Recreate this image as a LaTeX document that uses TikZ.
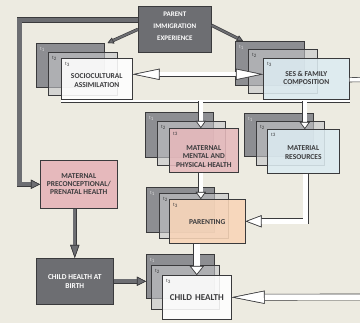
\documentclass[tikz,border=0pt]{standalone}
\usepackage{fontspec}
\setmainfont{Carlito}
\usetikzlibrary{arrows.meta}
\definecolor{paper}{HTML}{EDEBE1}
\definecolor{edgegray}{HTML}{3A3A3C}
\definecolor{darkbox}{HTML}{6D6E72}
\definecolor{tonegray}{HTML}{8D8E92}
\definecolor{veilgray}{HTML}{C4C5C8}
\definecolor{rosebox}{HTML}{E6B9BC}
\definecolor{skybox}{HTML}{DCEBF1}
\definecolor{peachbox}{HTML}{F9D5B8}
\definecolor{inkgray}{HTML}{3C3C3E}

\tikzset{
  panel/.style={draw=edgegray, line width=0.6pt, anchor=north west, inner sep=0pt},
  tone/.style={panel, fill=tonegray},
  veil/.style={panel, fill=veilgray, fill opacity=0.6},
  front/.style={panel, fill=#1, fill opacity=0.88},
  front/.default=white,
  heavy/.style={panel, fill=darkbox},
  caption/.style={font=\bfseries\fontsize{7.5}{8.5}\selectfont, text=inkgray,
    align=center, inner sep=0pt, text opacity=1},
  tmark/.style={font=\fontsize{5}{5}\selectfont, text=inkgray, anchor=north west,
    inner sep=0pt, xshift=4pt, yshift=-4pt, text opacity=1},
  wflow/.style={draw=white, line width=#1,
    preaction={draw=edgegray, line width=#1+1.2pt}},
  gflow/.style={draw=darkbox, line width=#1,
    preaction={draw=edgegray, line width=#1+1.2pt}},
  wlong/.tip={Triangle[fill=white, color=edgegray, line width=0.6pt, length=27pt, width=11pt]},
  wlonger/.tip={Triangle[fill=white, color=edgegray, line width=0.6pt, length=33pt, width=13pt]},
  wshort/.tip={Triangle[fill=white, color=edgegray, line width=0.6pt, length=7pt, width=10pt]},
  wmid/.tip={Triangle[fill=white, color=edgegray, line width=0.6pt, length=16pt, width=12pt]},
  wbroad/.tip={Triangle[fill=white, color=edgegray, line width=0.6pt, length=9pt, width=14pt]},
  gsmall/.tip={Triangle[fill=darkbox, color=edgegray, line width=0.6pt, length=6pt, width=6pt]},
  gmid/.tip={Triangle[fill=darkbox, color=edgegray, line width=0.6pt, length=9pt, width=9pt]},
  glong/.tip={Triangle[fill=darkbox, color=edgegray, line width=0.6pt, length=13pt, width=9pt]},
}

\begin{document}
\begin{tikzpicture}[x=1pt, y=-1pt]
  \useasboundingbox (0,0) rectangle (360,323);
  \fill[paper] (0,0) rectangle (360,323);
  \clip (0,0) rectangle (360,323);

  % ── Parent immigration experience ──
  \node[heavy, minimum width=73, minimum height=46,
    label={[caption, text=white, font=\bfseries\fontsize{7}{12}\selectfont, yshift=3.5pt]center:{PARENT\\IMMIGRATION\\EXPERIENCE}}]
    (parent) at (138,6) {};

  % ── Sociocultural assimilation ──
  \node[tone, minimum width=68, minimum height=44,
    label={[tmark, text=white!85!black]north west:t\textsubscript{1}}] (soc1) at (36,43) {};
  \node[veil, minimum width=69, minimum height=43,
    label={[tmark]north west:t\textsubscript{2}}] (soc2) at (48,52) {};
  \node[front, minimum width=71, minimum height=41,
    label={[tmark]north west:t\textsubscript{3}},
    label={[caption, yshift=-2pt]center:{SOCIOCULTURAL\\ASSIMILATION}}] (soc3) at (61,58) {};

  % ── SES & family composition ──
  \node[tone, minimum width=69, minimum height=44,
    label={[tmark, text=white!85!black]north west:t\textsubscript{1}}] (ses1) at (235,41) {};
  \node[veil, minimum width=69, minimum height=44,
    label={[tmark]north west:t\textsubscript{2}}] (ses2) at (248,49) {};
  \node[front=skybox, minimum width=86, minimum height=41,
    label={[tmark]north west:t\textsubscript{3}},
    label={[caption, yshift=1pt]center:{SES \& FAMILY\\COMPOSITION}}] (ses3) at (263,58) {};

  % ── Maternal mental and physical health ──
  \node[tone, minimum width=68, minimum height=45,
    label={[tmark, text=white!85!black]north west:t\textsubscript{1}}] (mh1) at (145,112) {};
  \node[veil, minimum width=68, minimum height=44,
    label={[tmark]north west:t\textsubscript{2}}] (mh2) at (157,121) {};
  \node[front=rosebox, minimum width=69, minimum height=44,
    label={[tmark]north west:t3},
    label={[caption, yshift=-6pt]center:{MATERNAL\\MENTAL AND\\PHYSICAL HEALTH}}] (mh3) at (169,128) {};

  % ── Material resources ──
  \node[tone, minimum width=69, minimum height=43,
    label={[tmark, text=white!85!black]north west:t\textsubscript{1}}] (mr1) at (244,113) {};
  \node[veil, minimum width=68, minimum height=44,
    label={[tmark]north west:t\textsubscript{2}}] (mr2) at (256,121) {};
  \node[front=skybox, minimum width=72, minimum height=44,
    label={[tmark]north west:t3},
    label={[caption, yshift=-1.5pt]center:{MATERIAL\\RESOURCES}}] (mr3) at (267,129) {};

  % ── Parenting ──
  \node[tone, minimum width=68, minimum height=45,
    label={[tmark, text=white!85!black]north west:t\textsubscript{1}}] (pa1) at (146,187) {};
  \node[veil, minimum width=69, minimum height=45,
    label={[tmark]north west:t\textsubscript{2}}] (pa2) at (159,193) {};
  \node[front=peachbox, minimum width=76, minimum height=44,
    label={[tmark]north west:t\textsubscript{3}},
    label={[caption, yshift=-1pt]center:{PARENTING}}] (pa3) at (169,199) {};

  % ── Child health ──
  \node[tone, minimum width=68, minimum height=44,
    label={[tmark, text=white!85!black]north west:t\textsubscript{1}}] (ch1) at (146,254) {};
  \node[veil, minimum width=68, minimum height=44,
    label={[tmark]north west:t\textsubscript{2}}] (ch2) at (151,265) {};
  \node[front, minimum width=69, minimum height=44,
    label={[tmark]north west:t\textsubscript{3}},
    label={[caption, font=\bfseries\fontsize{9}{10}\selectfont]center:{CHILD\,\,HEALTH}}] (ch3) at (162,275) {};

  % ── Maternal preconceptional / prenatal health ──
  \node[panel, fill=rosebox, minimum width=77, minimum height=48,
    label={[caption, font=\bfseries\fontsize{7.5}{8}\selectfont]center:{MATERNAL\\PRECONCEPTIONAL/\\PRENATAL HEALTH}}]
    (precon) at (40,160) {};

  % ── Child health at birth ──
  \node[heavy, minimum width=77, minimum height=46,
    label={[caption, text=white, font=\bfseries\fontsize{7.5}{9}\selectfont]center:{CHILD HEALTH AT\\BIRTH}}]
    (birth) at (36,258) {};

  % ── Flows ──
  \coordinate (rail) at (19.5,120);
  \coordinate (sesout) at (366,79.5);
  \coordinate (chin) at (366,297);
  \coordinate (barL) at ([yshift=-1.5pt]soc3.south west);
  \coordinate (barR) at ([yshift=-1.5pt]ses3.south east);
  \coordinate (mhtop) at ([xshift=-3pt]mh3.north);
  \coordinate (mhbot) at ([xshift=-3pt]mh3.south);
  \coordinate (mrtop) at ([xshift=1.5pt]mr3.north);

  \draw[gflow=4.3pt, -{gmid}] ([yshift=9.5pt]parent.west) -| (rail) |- (precon.west);
  \draw[gflow=2pt, -{gsmall}] (parent.west) -- ([xshift=3pt]soc1.north east);
  \draw[gflow=2pt, -{gsmall}] ([yshift=4pt]parent.east) -- ([xshift=8pt]ses1.north west);

  \draw[wflow=3.8pt, {wlong}-{wlong}] ([yshift=4.5pt]soc3.east) -- ([yshift=4.5pt]ses3.west);
  \draw[wflow=3.8pt] ([yshift=-1pt]ses3.east) -- (sesout);
  \draw[wflow=1.8pt] (barL) -- (barR);
  \draw[wflow=3.8pt, -{wshort}] (mhtop |- barL) -- (mhtop);
  \draw[wflow=3.8pt, -{wshort}] (mrtop |- barL) -- (mrtop);

  \draw[wflow=3.8pt, -{wshort}] (mhbot) -- (mhbot |- pa3.north);
  \draw[wflow=5pt, -{wmid}] ([xshift=2.5pt]mr3.south) |- (pa3.east);
  \draw[wflow=5.5pt, -{wbroad}] (ch3.north |- pa3.south) -- (ch3.north);
  \draw[wflow=5.5pt, -{wlonger}] (chin) -- (ch3.east);

  \draw[gflow=2.8pt, -{glong}] (birth.north |- precon.south) -- (birth.north);
  \draw[gflow=3.8pt, -{gmid}] (birth.east) -- (birth.east -| ch1.west);
\end{tikzpicture}
\end{document}
